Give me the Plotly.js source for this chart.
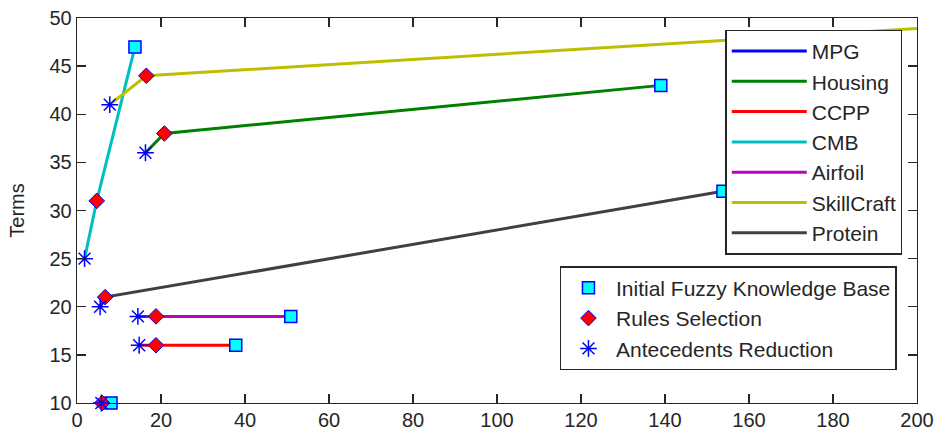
<!DOCTYPE html>
<html>
<head>
<meta charset="utf-8">
<script src="https://cdn.plot.ly/plotly-3.0.1.min.js"></script>
<style>html,body{margin:0;padding:0;background:#fff;}#chart{width:936px;height:432px;}</style>
</head>
<body>
<div id="chart"></div>
<script>
// Datasets (line series)
const datasets = ['MPG', 'Housing', 'CCPP', 'CMB', 'Airfoil', 'SkillCraft', 'Protein'];
const lineColors = ['#0000FF', '#008000', '#FF0000', '#00BFBF', '#BF00BF', '#BFBF00', '#404040'];

// Antecedents Reduction (x, y)
const antX = [5.8, 16.3, 14.8, 1.8, 14.5, 7.8, 5.5];
const antY = [10, 36, 16, 25, 19, 41, 20];
// Rules Selection (x, y)
const rulesX = [6.0, 20.8, 18.8, 4.7, 18.8, 16.5, 6.7];
const rulesY = [10, 38, 16, 31, 19, 44, 21];
// Initial Fuzzy Knowledge Base (x, y)
const initX = [8.1, 139, 37.8, 13.8, 50.9, 230, 153.8];
const initY = [10, 43, 16, 47, 19, 49.7, 32];

const markerNames = ['Initial Fuzzy Knowledge Base', 'Rules Selection', 'Antecedents Reduction'];

const xTicks = [0, 20, 40, 60, 80, 100, 120, 140, 160, 180, 200];
const yTicks = [10, 15, 20, 25, 30, 35, 40, 45, 50];

const FONT = 'Arial, "Liberation Sans", sans-serif';
const traces = [];

datasets.forEach((name, i) => {
  traces.push({
    type: 'scatter', mode: 'lines', name: name,
    x: [antX[i], rulesX[i], initX[i]],
    y: [antY[i], rulesY[i], initY[i]],
    line: {color: lineColors[i], width: 3},
    legend: 'legend', hoverinfo: 'skip'
  });
});

traces.push({
  type: 'scatter', mode: 'markers', name: markerNames[0],
  x: initX, y: initY, cliponaxis: false,
  marker: {symbol: 'square', size: 12, color: '#00FFFF', line: {color: '#0000FF', width: 1.5}},
  legend: 'legend2', hoverinfo: 'skip'
});
traces.push({
  type: 'scatter', mode: 'markers', name: markerNames[1],
  x: rulesX, y: rulesY, cliponaxis: false,
  marker: {symbol: 'diamond', size: 12, color: '#FF0000', line: {color: '#0000FF', width: 1}},
  legend: 'legend2', hoverinfo: 'skip'
});
traces.push({
  type: 'scatter', mode: 'markers', name: markerNames[2],
  x: antX, y: antY, cliponaxis: false,
  marker: {symbol: 'asterisk-open', size: 14, color: '#0000FF', line: {color: '#0000FF', width: 1.5}},
  legend: 'legend2', hoverinfo: 'skip'
});

const axisCommon = {
  showgrid: false, zeroline: false,
  showline: true, linecolor: '#262626', linewidth: 1.3,
  mirror: 'ticks', ticks: 'inside', ticklen: 9, tickwidth: 1.3, tickcolor: '#262626',
  tickfont: {family: FONT, size: 20, color: '#262626'}
};

const layout = {
  width: 936, height: 432,
  margin: {l: 77, r: 19, t: 18, b: 29},
  paper_bgcolor: '#fff', plot_bgcolor: '#fff',
  font: {family: FONT, size: 20, color: '#262626'},
  showlegend: true,
  xaxis: Object.assign({}, axisCommon, {range: [0, 200], tickvals: xTicks, ticktext: xTicks.map(String), ticklabelstandoff: -1}),
  yaxis: Object.assign({}, axisCommon, {range: [10, 50], tickvals: yTicks, ticktext: yTicks.map(String),
    title: {text: 'Terms', font: {family: FONT, size: 20, color: '#262626'}, standoff: 19}}),
  legend: {
    x: 0.772, y: 0.970, xanchor: 'left', yanchor: 'top',
    bgcolor: '#fff', bordercolor: '#262626', borderwidth: 1.3,
    font: {family: FONT, size: 21, color: '#262626'},
    itemwidth: 75, tracegroupgap: 0
  },
  legend2: {
    x: 0.5746, y: 0.355, xanchor: 'left', yanchor: 'top',
    bgcolor: '#fff', bordercolor: '#262626', borderwidth: 1.3,
    font: {family: FONT, size: 21, color: '#262626'},
    itemwidth: 45
  }
};

Plotly.newPlot('chart', traces, layout, {staticPlot: true, displayModeBar: false});
</script>
</body>
</html>
